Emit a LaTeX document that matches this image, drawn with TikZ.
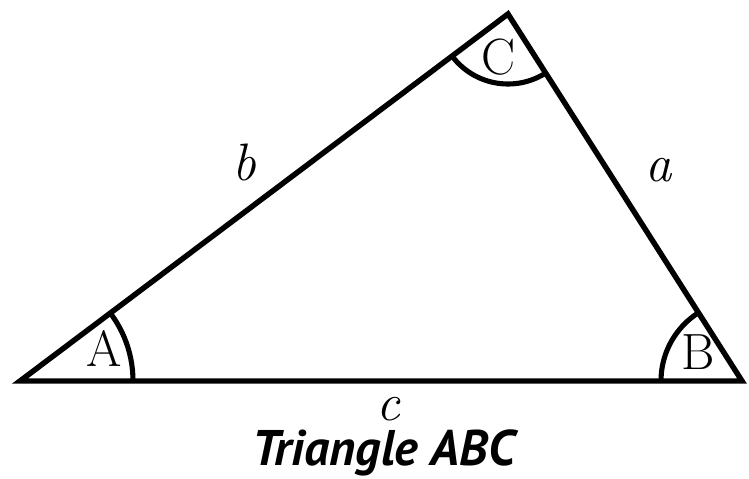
\documentclass[tikz,border=0pt]{standalone}
\usepackage{fontspec}
\newfontfamily\titlefont{PT Sans}
\usepackage{tikz}
\tikzset{
    side/.style={
        line width=3.1pt,
        line join=miter
    },
    anglearc/.style={
        line width=2.9pt
    },
    vertexlabel/.style={
        font=\fontsize{29}{32}\selectfont,
        inner sep=0pt
    },
    sidelabel/.style={
        font=\fontsize{30}{32}\selectfont\itshape,
        inner sep=0pt
    },
    titlelabel/.style={
        font=\titlefont\fontsize{28.5}{32}\selectfont\bfseries\itshape,
        inner sep=0pt,
        anchor=base
    }
}

\begin{document}
\begin{tikzpicture}[x=0.02cm,y=0.02cm]
        \useasboundingbox (0,0) rectangle (749,478);

        % corners
        \coordinate (A) at (20,97);
        \coordinate (B) at (742,97);
        \coordinate (C) at (508,464);

        % angle marks, kept inside the triangle
        \begin{scope}
            \clip (A) -- (B) -- (C) -- cycle;
            \draw[anglearc] (A) circle[radius=113];
            \draw[anglearc] (B) circle[radius=81];
            \draw[anglearc] (C) circle[radius=70];
        \end{scope}

        \draw[side] (A) -- (B) -- (C) -- cycle;

        \node[vertexlabel] (angA) at (104,130) {A};
        \node[vertexlabel] (angB) at (698,126) {B};
        \node[vertexlabel] (angC) at (499,421) {C};

        \node[sidelabel] (sideb) at (244,316) {b};
        \node[sidelabel] (sidea) at (659,308) {a};
        \node[sidelabel] (sidec) at (388,69) {c};

        \node[titlelabel] (title) at (384,13) {Triangle ABC};
    \end{tikzpicture}
\end{document}
